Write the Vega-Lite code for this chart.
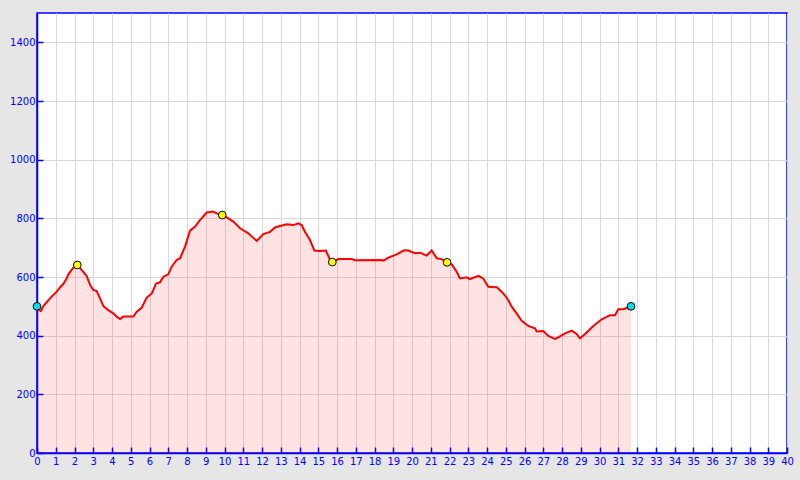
{
  "$schema": "https://vega.github.io/schema/vega-lite/v6.json",
  "autosize": {"type": "none"},
  "padding": {"left": 37, "top": 13, "right": 13, "bottom": 27},
  "width": 750,
  "height": 440,
  "background": "#e6e6e6",
  "config": {
    "view": {"fill": "#ffffff", "stroke": "#0000ff", "strokeWidth": 1.5, "strokeOpacity": 1},
    "axis": {
      "domainColor": "#0000ff",
      "domainWidth": 1.5,
      "tickColor": "#0000ff",
      "tickWidth": 1.5,
      "labelColor": "#0000ff",
      "labelFont": "DejaVu Sans",
      "labelFontSize": 10,
      "gridColor": "#d9d9d9",
      "gridWidth": 1,
      "gridOpacity": 1,
      "tickSize": -6,
      "title": null
    }
  },
  "datasets": {
    "profile": [
      {"km": 0, "ele": 492}, {"km": 0.2, "ele": 484}, {"km": 0.34, "ele": 501}, {"km": 0.69, "ele": 527},
      {"km": 1.05, "ele": 550}, {"km": 1.23, "ele": 565}, {"km": 1.4, "ele": 576}, {"km": 1.58, "ele": 595},
      {"km": 1.67, "ele": 609}, {"km": 1.94, "ele": 632}, {"km": 2.15, "ele": 641}, {"km": 2.38, "ele": 624},
      {"km": 2.65, "ele": 603}, {"km": 2.83, "ele": 573}, {"km": 3.0, "ele": 556}, {"km": 3.18, "ele": 552},
      {"km": 3.36, "ele": 527}, {"km": 3.54, "ele": 501}, {"km": 3.8, "ele": 487}, {"km": 4.07, "ele": 476},
      {"km": 4.25, "ele": 465}, {"km": 4.43, "ele": 457}, {"km": 4.6, "ele": 465}, {"km": 4.96, "ele": 465},
      {"km": 5.14, "ele": 465}, {"km": 5.32, "ele": 482}, {"km": 5.58, "ele": 495}, {"km": 5.85, "ele": 530},
      {"km": 6.12, "ele": 544}, {"km": 6.35, "ele": 578}, {"km": 6.56, "ele": 582}, {"km": 6.74, "ele": 601},
      {"km": 7.0, "ele": 609}, {"km": 7.18, "ele": 635}, {"km": 7.45, "ele": 658}, {"km": 7.63, "ele": 664},
      {"km": 7.89, "ele": 703}, {"km": 8.16, "ele": 758}, {"km": 8.43, "ele": 772}, {"km": 8.69, "ele": 794},
      {"km": 9.05, "ele": 820}, {"km": 9.4, "ele": 823}, {"km": 9.58, "ele": 817}, {"km": 9.88, "ele": 811},
      {"km": 10.12, "ele": 803}, {"km": 10.47, "ele": 789}, {"km": 10.83, "ele": 766}, {"km": 11.27, "ele": 749},
      {"km": 11.72, "ele": 723}, {"km": 12.07, "ele": 746}, {"km": 12.43, "ele": 754}, {"km": 12.69, "ele": 769},
      {"km": 12.96, "ele": 774}, {"km": 13.32, "ele": 780}, {"km": 13.67, "ele": 777}, {"km": 13.94, "ele": 783},
      {"km": 14.12, "ele": 777}, {"km": 14.29, "ele": 754}, {"km": 14.56, "ele": 726}, {"km": 14.79, "ele": 690},
      {"km": 15.09, "ele": 689}, {"km": 15.41, "ele": 690}, {"km": 15.63, "ele": 658}, {"km": 15.75, "ele": 651},
      {"km": 16.07, "ele": 661}, {"km": 16.78, "ele": 661}, {"km": 16.96, "ele": 657}, {"km": 18.38, "ele": 658},
      {"km": 18.47, "ele": 656}, {"km": 18.74, "ele": 666}, {"km": 19.18, "ele": 677}, {"km": 19.57, "ele": 691},
      {"km": 19.8, "ele": 690}, {"km": 20.16, "ele": 681}, {"km": 20.43, "ele": 683}, {"km": 20.78, "ele": 673},
      {"km": 21.05, "ele": 690}, {"km": 21.32, "ele": 664}, {"km": 21.58, "ele": 661}, {"km": 21.87, "ele": 650},
      {"km": 22.12, "ele": 643}, {"km": 22.38, "ele": 618}, {"km": 22.56, "ele": 595}, {"km": 22.92, "ele": 599},
      {"km": 23.09, "ele": 593}, {"km": 23.54, "ele": 604}, {"km": 23.8, "ele": 595}, {"km": 24.07, "ele": 567},
      {"km": 24.52, "ele": 565}, {"km": 24.78, "ele": 550}, {"km": 25.05, "ele": 530}, {"km": 25.32, "ele": 499},
      {"km": 25.58, "ele": 476}, {"km": 25.85, "ele": 451}, {"km": 26.2, "ele": 433}, {"km": 26.56, "ele": 425},
      {"km": 26.65, "ele": 414}, {"km": 27.0, "ele": 416}, {"km": 27.27, "ele": 399}, {"km": 27.63, "ele": 389},
      {"km": 27.8, "ele": 394}, {"km": 28.16, "ele": 408}, {"km": 28.52, "ele": 417}, {"km": 28.78, "ele": 406},
      {"km": 28.96, "ele": 391}, {"km": 29.23, "ele": 406}, {"km": 29.67, "ele": 433}, {"km": 30.12, "ele": 456},
      {"km": 30.56, "ele": 470}, {"km": 30.83, "ele": 470}, {"km": 31.0, "ele": 490}, {"km": 31.27, "ele": 490},
      {"km": 31.55, "ele": 497}, {"km": 31.68, "ele": 500}
    ],
    "markers": [
      {"km": 0, "ele": 500, "kind": "end"},
      {"km": 2.15, "ele": 641, "kind": "mid"},
      {"km": 9.88, "ele": 811, "kind": "mid"},
      {"km": 15.75, "ele": 651, "kind": "mid"},
      {"km": 21.87, "ele": 650, "kind": "mid"},
      {"km": 31.68, "ele": 500, "kind": "end"}
    ]
  },
  "encoding": {
    "x": {
      "field": "km", "type": "quantitative",
      "scale": {"domain": [0, 40], "nice": false, "zero": false},
      "axis": {
        "values": [0,1,2,3,4,5,6,7,8,9,10,11,12,13,14,15,16,17,18,19,20,21,22,23,24,25,26,27,28,29,30,31,32,33,34,35,36,37,38,39,40],
        "format": "d", "labelPadding": 9, "labelFlush": false, "labelOverlap": false
      }
    },
    "y": {
      "field": "ele", "type": "quantitative",
      "scale": {"domain": [0, 1500], "nice": false},
      "axis": {"values": [0,200,400,600,800,1000,1200,1400], "format": "d", "labelPadding": 8, "labelFlush": false}
    }
  },
  "layer": [
    {
      "data": {"name": "profile"},
      "mark": {"type": "area", "color": "#ff0000", "opacity": 0.11, "interpolate": "linear"}
    },
    {
      "data": {"name": "profile"},
      "mark": {"type": "line", "color": "#ff0000", "strokeWidth": 2, "interpolate": "linear"}
    },
    {
      "data": {"name": "markers"},
      "mark": {"type": "point", "shape": "circle", "filled": true, "size": 60, "stroke": "#000000", "strokeWidth": 1, "opacity": 1},
      "encoding": {
        "fill": {
          "field": "kind", "type": "nominal",
          "scale": {"domain": ["end", "mid"], "range": ["#00e0e8", "#ffff00"]},
          "legend": null
        }
      }
    }
  ]
}
